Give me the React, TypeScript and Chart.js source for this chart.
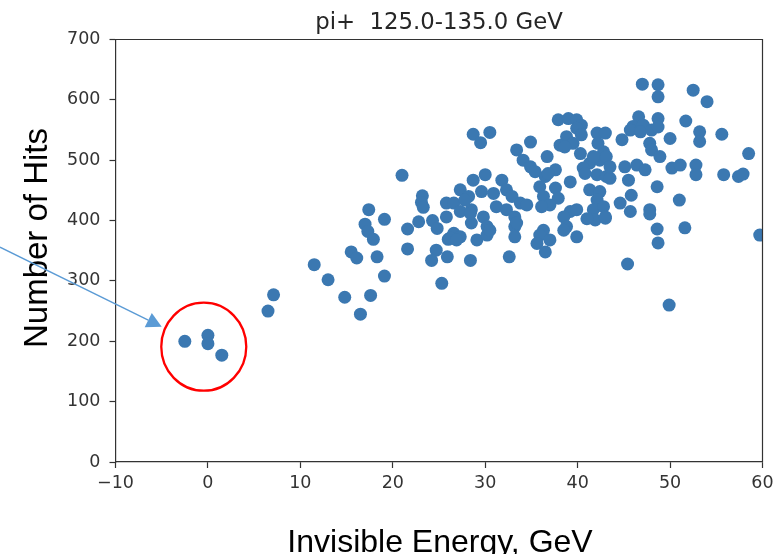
import React, { useEffect, useRef } from "react";
import { Chart, registerables } from "chart.js";

Chart.register(...registerables);

const TITLE = "pi+  125.0-135.0 GeV";
const X_LABEL = "Invisible Energy, GeV";
const Y_LABEL = "Number of Hits";

const xTicks = [-10, 0, 10, 20, 30, 40, 50, 60];
const yTicks = [0, 100, 200, 300, 400, 500, 600, 700];

// Invisible energy (GeV) of each event
const energy = [
  -2.5, 0.0, 0.0, 1.5, 6.5, 7.1, 11.5, 13.0, 14.8, 15.5,
  16.1, 16.5, 17.0, 17.3, 17.4, 17.6, 17.9, 18.3, 19.1, 19.1,
  21.0, 21.6, 21.6, 22.8, 23.2, 23.1, 23.3, 24.3, 24.8, 24.7,
  24.2, 25.3, 25.8, 25.8, 26.0, 25.9, 28.7, 30.5, 29.5, 34.9,
  33.4, 34.1, 34.9, 35.4, 36.7, 37.9, 39.0, 39.9, 40.4, 38.8,
  39.5, 38.1, 42.1, 43.0, 40.3, 41.3, 42.4, 40.6, 42.1, 43.1,
  39.2, 37.6, 36.5, 35.9, 36.3, 37.6, 37.9, 37.0, 41.3, 42.4,
  42.1, 41.7, 42.8, 41.9, 39.2, 38.5, 39.9, 38.8, 36.3, 35.9,
  27.3, 28.7, 30.0, 31.8, 28.2, 29.6, 30.9, 32.3, 32.9, 33.8,
  34.5, 26.6, 27.3, 28.5, 29.8, 31.2, 32.3, 33.2, 28.5, 30.2,
  33.2, 26.6, 26.2, 27.3, 29.1, 30.2, 33.2, 28.4, 32.6, 35.6,
  36.5, 37.0, 39.9, 47.0, 48.7, 48.7, 52.5, 54.0, 46.6, 46.0,
  47.1, 48.7, 45.7, 46.8, 48.0, 44.8, 50.0, 51.7, 53.2, 53.2,
  55.6, 47.8, 48.0, 48.9, 42.8, 45.1, 46.4, 47.3, 50.2, 51.1,
  52.8, 52.8, 55.8, 57.4, 57.9, 58.5, 43.5, 45.5, 45.8, 48.6,
  51.0, 44.6, 47.8, 45.7, 47.8, 48.6, 48.7, 51.6, 59.7, 45.4,
  49.9, 43.0, 27.8, 28.4, 30.5, 33.4, 36.1, 36.8, 38.5, 41.0,
  43.0, 41.7, 43.1, 43.5, 40.8, 38.6, 26.9, 39.9, 40.4, 42.2,
  48.7,
];

// Number of hits of each event
const hits = [
  200, 210, 196, 177, 250, 277, 327, 302, 273, 348,
  338, 245, 394, 382, 418, 276, 369, 340, 402, 308,
  475, 386, 353, 398, 441, 430, 422, 400, 387, 351,
  334, 296, 429, 406, 369, 340, 543, 546, 529, 530,
  517, 500, 489, 481, 506, 567, 569, 567, 558, 539,
  528, 525, 545, 545, 511, 495, 500, 487, 476, 473,
  464, 484, 473, 456, 440, 454, 437, 426, 451, 448,
  434, 418, 423, 401, 415, 406, 418, 390, 384, 376,
  451, 467, 476, 467, 440, 448, 445, 451, 440, 429,
  426, 429, 415, 418, 406, 423, 418, 406, 396, 390,
  390, 379, 371, 373, 368, 376, 373, 334, 340, 362,
  348, 368, 373, 626, 625, 605, 616, 597, 572, 556,
  558, 569, 550, 547, 550, 534, 536, 565, 547, 531,
  543, 528, 517, 506, 514, 489, 492, 484, 487, 492,
  492, 476, 476, 473, 477, 511, 470, 467, 442, 456,
  434, 429, 418, 415, 411, 386, 363, 388, 376, 328,
  260, 406, 434, 412, 384, 396, 423, 478, 384, 403,
  404, 506, 506, 489, 478, 522, 368, 553, 542, 528,
  555,
];

// Annotation anchors, in data units
const circleCenter = { x: -0.45, y: 191 };
const arrowStart = { x: -22.5, y: 356 };
const arrowTip = { x: -5.0, y: 224 };

const TICK_COLOR = "#333333";
const POINT_COLOR = "#3b78b1";

const fmt = (v: number) => (v < 0 ? "\u2212" + Math.abs(v) : String(v));

const overlay = {
  id: "overlay",
  afterDraw(chart: any) {
    const { ctx, chartArea: a, scales } = chart;
    const sx = scales.x;
    const sy = scales.y;
    ctx.save();
    // top & right spines
    ctx.strokeStyle = TICK_COLOR;
    ctx.lineWidth = 1.2;
    ctx.beginPath();
    ctx.moveTo(a.left, a.top);
    ctx.lineTo(a.right, a.top);
    ctx.lineTo(a.right, a.bottom);
    ctx.stroke();

    // title
    ctx.fillStyle = "#262626";
    ctx.font = '22.8px "DejaVu Sans"';
    ctx.textAlign = "center";
    ctx.textBaseline = "alphabetic";
    ctx.fillText(TITLE, (a.left + a.right) / 2, 28.5);

    // axis labels
    ctx.fillStyle = "#000000";
    ctx.font = '32px "Liberation Sans"';
    ctx.fillText(X_LABEL, (a.left + a.right) / 2 + 1, 551.5);
    ctx.save();
    ctx.translate(47, 238);
    ctx.rotate(-Math.PI / 2);
    ctx.font = '33px "Liberation Sans"';
    ctx.fillText(Y_LABEL, 0, 0);
    ctx.restore();

    // red circle
    const cx = sx.getPixelForValue(circleCenter.x);
    const cy = sy.getPixelForValue(circleCenter.y);
    ctx.strokeStyle = "#ff0000";
    ctx.lineWidth = 2.3;
    ctx.beginPath();
    ctx.ellipse(cx, cy, 42.5, 44, 0, 0, Math.PI * 2);
    ctx.stroke();

    // arrow
    const x0 = sx.getPixelForValue(arrowStart.x);
    const y0 = sy.getPixelForValue(arrowStart.y);
    const x1 = sx.getPixelForValue(arrowTip.x);
    const y1 = sy.getPixelForValue(arrowTip.y);
    const dx = x1 - x0;
    const dy = y1 - y0;
    const len = Math.hypot(dx, dy);
    const ux = dx / len;
    const uy = dy / len;
    const headLen = 15;
    const headHalf = 8;
    const bx = x1 - ux * headLen;
    const by = y1 - uy * headLen;
    ctx.strokeStyle = "#5b9bd5";
    ctx.fillStyle = "#5b9bd5";
    ctx.lineWidth = 1.4;
    ctx.beginPath();
    ctx.moveTo(x0, y0);
    ctx.lineTo(bx, by);
    ctx.stroke();
    ctx.beginPath();
    ctx.moveTo(x1, y1);
    ctx.lineTo(bx - uy * headHalf, by + ux * headHalf);
    ctx.lineTo(bx + uy * headHalf, by - ux * headHalf);
    ctx.closePath();
    ctx.fill();
    ctx.restore();
  },
};

export default function App() {
  const canvasRef = useRef<HTMLCanvasElement | null>(null);

  useEffect(() => {
    const canvas = canvasRef.current;
    if (!canvas) return;
    const points = energy.map((x, i) => ({ x, y: hits[i] }));
    const tickFont = { family: '"DejaVu Sans", sans-serif', size: 17.5 };
    const chart = new Chart(canvas, {
      type: "scatter",
      data: {
        datasets: [
          {
            data: points,
            backgroundColor: POINT_COLOR,
            borderWidth: 0,
            pointRadius: 6.5,
            pointHoverRadius: 6.5,
            clip: 0,
          } as any,
        ],
      },
      options: {
        responsive: false,
        animation: false,
        events: [],
        layout: { padding: { left: 0, right: 13.5, top: 39.5, bottom: 0 } },
        plugins: {
          legend: { display: false },
          tooltip: { enabled: false },
          title: { display: false },
        },
        scales: {
          x: {
            type: "linear",
            min: -10,
            max: 60,
            afterFit: (s: any) => {
              s.height = 92;
              s.paddingLeft = 0;
              s.paddingRight = 0;
            },
            afterBuildTicks: (s: any) => {
              s.ticks = xTicks.map((v) => ({ value: v }));
            },
            ticks: {
              font: tickFont,
              color: TICK_COLOR,
              padding: 5,
              maxRotation: 0,
              autoSkip: false,
              callback: (v: any) => fmt(Number(v)),
            },
            grid: {
              drawOnChartArea: false,
              drawTicks: true,
              tickLength: 6,
              tickColor: TICK_COLOR,
              tickWidth: 1.2,
            },
            border: { display: true, color: TICK_COLOR, width: 1.2 },
          },
          y: {
            type: "linear",
            min: 0,
            max: 700,
            afterFit: (s: any) => {
              s.width = 115.5;
              s.paddingTop = 0;
              s.paddingBottom = 0;
            },
            afterBuildTicks: (s: any) => {
              s.ticks = yTicks.map((v) => ({ value: v }));
            },
            ticks: {
              font: tickFont,
              color: TICK_COLOR,
              padding: 9,
              autoSkip: false,
              callback: (v: any) => fmt(Number(v)),
            },
            grid: {
              drawOnChartArea: false,
              drawTicks: true,
              tickLength: 6,
              tickColor: TICK_COLOR,
              tickWidth: 1.2,
            },
            border: { display: true, color: TICK_COLOR, width: 1.2 },
          },
        },
      } as any,
      plugins: [overlay],
    });
    return () => chart.destroy();
  }, []);

  return (
    <div
      style={{
        position: "fixed",
        left: 0,
        top: 0,
        width: 776,
        height: 554,
        background: "#ffffff",
      }}
    >
      <canvas
        ref={canvasRef}
        width={776}
        height={554}
        style={{ display: "block", width: 776, height: 554 }}
      />
    </div>
  );
}
